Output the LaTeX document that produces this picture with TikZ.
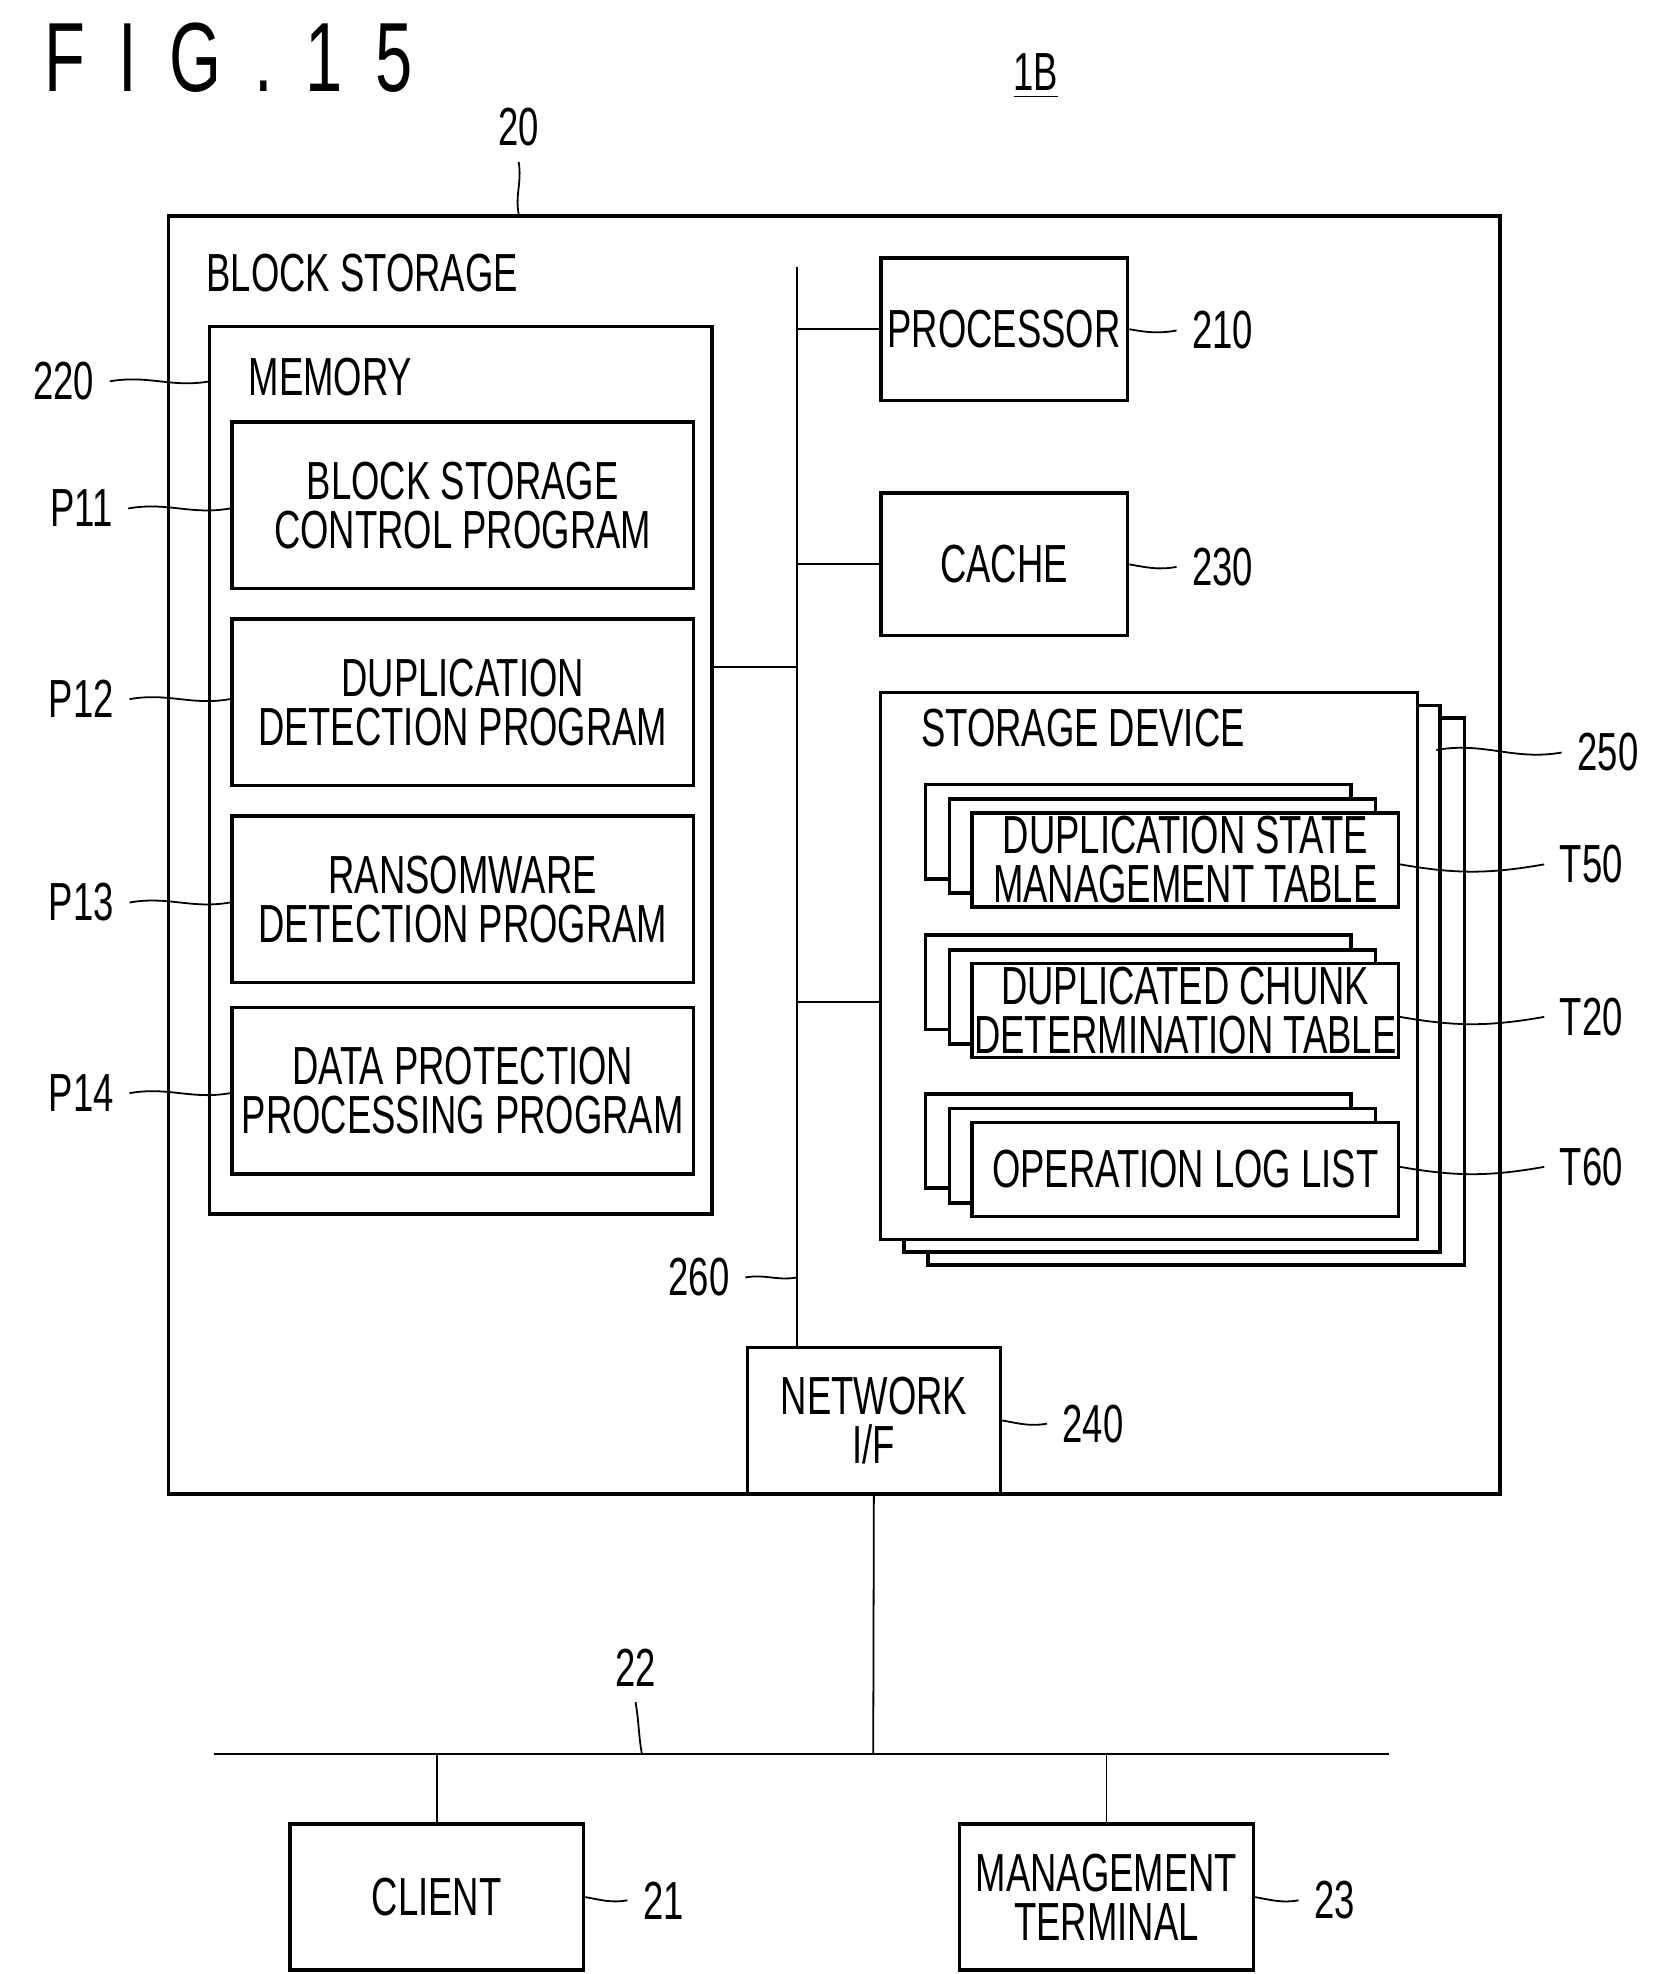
\documentclass[tikz,border=0pt]{standalone}
\usepackage{fontspec}
\setmainfont[FakeStretch=0.68]{Liberation Sans}
\usetikzlibrary{positioning}
\tikzset{
  box/.style={draw, thick, fill=white, align=center, inner sep=0pt},
  lead/.style={thin},
  bus/.style={thin}
}
\begin{document}
\begin{tikzpicture}[x=0.01cm, y=-0.01cm, font=\fontsize{12}{11}\selectfont]
  \useasboundingbox (0,0) rectangle (1300,1553);
  % Title
  \node[font=\fontsize{22}{24}\selectfont] (fig) at (180,45) {F\,\,I\,\,G\,\,.\,\,1\,\,5};
  \node (sys) at (815,60) {\underline{1B}};

  % Block storage
  \node[box, minimum width=10.47cm, minimum height=10.05cm] (bs) at (656.5,672.5) {};
  \node (bslbl) at (285,215) {BLOCK STORAGE};
  \node (n20) at (408,100) {20};
  \draw[lead] (n20.south) to[out=-80,in=100] (bs.north -| n20);

  % Memory
  \node[box, minimum width=3.95cm, minimum height=6.98cm] (mem) at (362.5,606) {};
  \node (memlbl) at (260,297) {MEMORY};
  \node (n220) at (50,300) {220};
  \draw[lead] (n220.east) to[out=10,in=190] (165,300);
  \foreach \name/\y/\txt in {p11/397.5/{BLOCK STORAGE\\CONTROL PROGRAM}, p12/552.5/{DUPLICATION\\DETECTION PROGRAM}, p13/707.5/{RANSOMWARE\\DETECTION PROGRAM}, p14/858/{DATA PROTECTION\\PROCESSING PROGRAM}} {
    \node[box, minimum width=3.63cm, minimum height=1.31cm] (\name) at (364,\y) {\txt};
  }
  \foreach \name/\lbl/\y in {p11/P11/400, p12/P12/550, p13/P13/710, p14/P14/860} {
    \node (l\name) at (64,\y) {\lbl};
    \draw[lead] (l\name.east) to[out=10,in=190] (\name.west |- 0,\y);
  }

  % Bus
  \coordinate (bustop) at (627,210);
  \coordinate (busbot) at (627,1060);
  \draw[bus] (bustop) -- (busbot);
  \draw[bus] (mem.east |- 0,525) -- (627,525);
  \node (n260) at (550,1005) {260};
  \draw[lead] (n260.east) to[out=10,in=190] (627,1005);

  % Processor, cache
  \node[box, minimum width=1.94cm, minimum height=1.12cm] (proc) at (790,259) {PROCESSOR};
  \node[box, minimum width=1.94cm, minimum height=1.12cm] (cache) at (790,444) {CACHE};
  \draw[bus] (627,259) -- (proc.west);
  \draw[bus] (627,444) -- (cache.west);
  \node (n210) at (962,260) {210};
  \node (n230) at (962,446) {230};
  \draw[lead] (proc.east) to[out=-10,in=190] (n210.west);
  \draw[lead] (cache.east) to[out=-10,in=190] (n230.west);

  % Storage device
  \foreach \dx/\dy in {37/20, 18/10} {
    \draw[thick, fill=white] (693+\dx,545+\dy) rectangle (1115+\dx,975+\dy);
  }
  \node[box, minimum width=4.22cm, minimum height=4.3cm] (sd) at (904,760) {};
  \node (sdlbl) at (852,573) {STORAGE DEVICE};
  \draw[bus] (627,788) -- (sd.west |- 0,788);
  \node (n250) at (1265,592) {250};
  \draw[lead] (1130,590) to[out=10,in=190] (n250.west);

  % Tables
  \foreach \name/\y/\txt in {t50/676.5/{DUPLICATION STATE\\MANAGEMENT TABLE}, t20/795/{DUPLICATED CHUNK\\DETERMINATION TABLE}, t60/920/{OPERATION LOG LIST}} {
    \foreach \dx in {37,18} {
      \draw[thick, fill=white] (765-\dx,\y-37-\dx*0.6) rectangle (1100-\dx,\y+37-\dx*0.6);
    }
    \node[box, minimum width=3.35cm, minimum height=0.74cm] (\name) at (932.5,\y) {\txt};
  }
  \foreach \name/\lbl/\y in {t50/T50/680, t20/T20/800, t60/T60/918} {
    \node (l\name) at (1252,\y) {\lbl};
    \draw[lead] (\name.east |- 0,\y) to[out=-10,in=190] (l\name.west);
  }

  % Network I/F
  \node[box, minimum width=1.99cm, minimum height=1.15cm] (nif) at (687.5,1117.5) {NETWORK\\I/F};
  \node (n240) at (860,1120) {240};
  \draw[lead] (nif.east) to[out=-10,in=190] (n240.west);

  % Network
  \coordinate (netl) at (168,1380);
  \coordinate (netr) at (1093,1380);
  \draw[bus] (netl) -- (netr);
  \draw[bus] (nif.south) -- (687,1380);
  \node (n22) at (500,1312) {22};
  \draw[lead] (n22.south) to[out=-80,in=100] (505,1380);

  \node[box, minimum width=2.31cm, minimum height=1.15cm] (client) at (343.5,1492.5) {CLIENT};
  \node[box, minimum width=2.31cm, minimum height=1.15cm] (mgmt) at (870.5,1492.5) {MANAGEMENT\\TERMINAL};
  \draw[bus] (client.north) -- (client.north |- netl);
  \draw[bus] (mgmt.north) -- (mgmt.north |- netl);
  \node (n21) at (522,1495) {21};
  \node (n23) at (1050,1495) {23};
  \draw[lead] (client.east) to[out=-10,in=190] (n21.west);
  \draw[lead] (mgmt.east) to[out=-10,in=190] (n23.west);
\end{tikzpicture}
\end{document}
